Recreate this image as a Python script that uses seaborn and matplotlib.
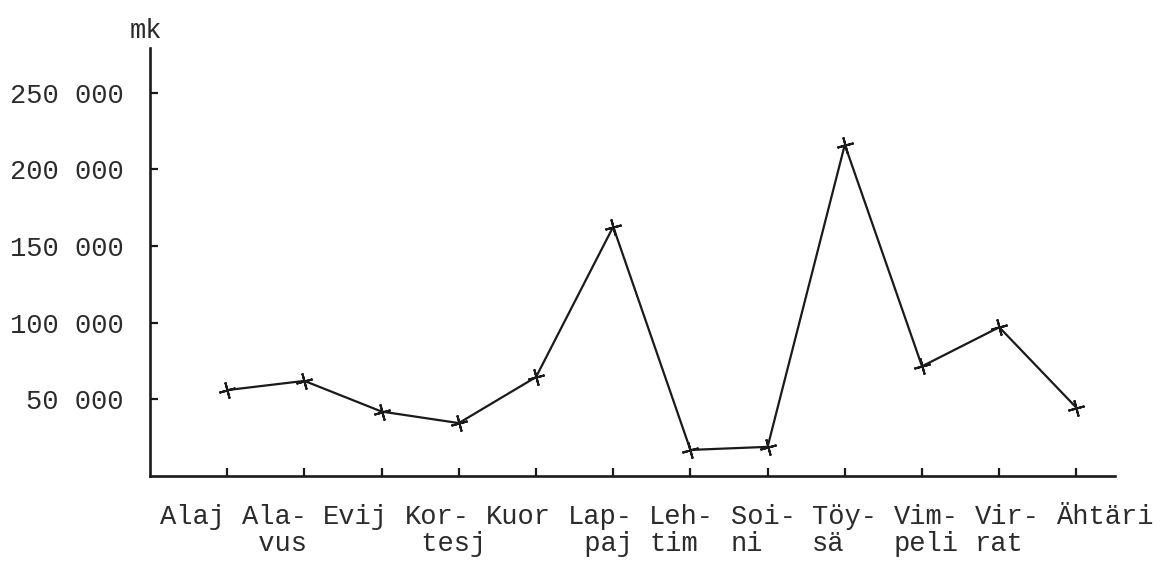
import matplotlib
matplotlib.use("Agg")
import matplotlib.pyplot as plt
import seaborn as sns
import pandas as pd

# --- data -------------------------------------------------------------
kunnat = ["Alaj", "Ala-\n vus", "Evij", "Kor-\n tesj", "Kuor", "Lap-\n paj",
          "Leh-\ntim", "Soi-\nni", "Töy-\nsä", "Vim-\npeli", "Vir-\nrat", "Ähtäri"]
arvot_mk = [56000, 62000, 42000, 34500, 64500, 162500,
            17000, 19000, 216000, 71500, 97000, 44500]
y_ticks = [50000, 100000, 150000, 200000, 250000]
y_ticklabels = ["50 000", "100 000", "150 000", "200 000", "250 000"]
y_unit = "mk"

df = pd.DataFrame({"kunta": kunnat, "mk": arvot_mk})

# --- style ------------------------------------------------------------
sns.set_theme(style="white")
plt.rcParams["font.family"] = ["Liberation Mono", "DejaVu Sans Mono"]
ink = "#1a1a1a"
text_ink = "#2b2b2b"
fs = 19.5

fig = plt.figure(figsize=(11.61, 5.67), dpi=100)
fig.patch.set_facecolor("white")
ax = fig.add_axes([0.1292, 0.1605, 0.8312, 0.7548])
ax.set_facecolor("white")

sns.lineplot(data=df, x="kunta", y="mk", sort=False, ax=ax, color=ink,
             linewidth=1.6, marker=(4, 2, 15), markersize=12,
             markeredgewidth=1.5, markeredgecolor=ink)

ax.set_xlim(-1, 11.5)
ax.set_ylim(0, 279000)
ax.set_xlabel("")
ax.set_ylabel("")

for side in ["top", "right"]:
    ax.spines[side].set_visible(False)
for side in ["left", "bottom"]:
    ax.spines[side].set_color(ink)
    ax.spines[side].set_linewidth(1.9)

ax.set_yticks(y_ticks)
ax.set_yticklabels(y_ticklabels, fontsize=fs, color=text_ink)
ax.set_xticks(range(len(kunnat)))
ax.tick_params(axis="y", direction="in", length=6, width=1.6, color=ink,
               pad=19, left=True)
ax.tick_params(axis="x", direction="in", length=6, width=1.6, color=ink,
               bottom=True, labelbottom=False)

# typed category labels (evenly spaced typewriter row under the axis)
for k, lab in enumerate(kunnat):
    x_frac = (10 + 81.5 * k) / 965.0
    ax.text(x_frac, -0.066, lab, transform=ax.transAxes, ha="left", va="top",
            fontsize=fs, color=text_ink, linespacing=1.05,
            multialignment="left")

ax.text(-0.004, 1.023, y_unit, transform=ax.transAxes, ha="center",
        va="baseline", fontsize=fs, color=text_ink)

fig.savefig("out.png", dpi=100, facecolor="white")
